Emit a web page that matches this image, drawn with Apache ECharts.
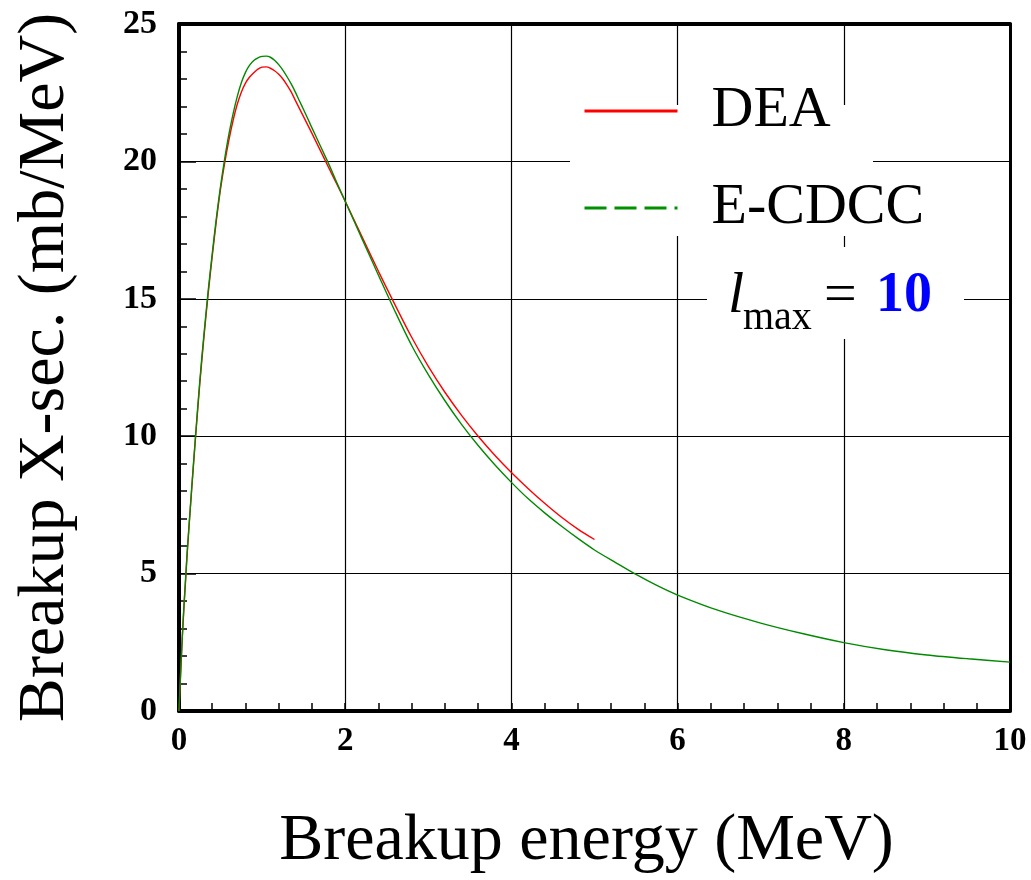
<!DOCTYPE html>
<html>
<head>
<meta charset="utf-8">
<script src="https://cdn.jsdelivr.net/npm/echarts@6/dist/echarts.min.js"></script>
<style>
html,body{margin:0;padding:0;background:#fff;}
#chart{width:1031px;height:880px;}
</style>
</head>
<body>
<div id="chart"></div>
<script>
// Breakup energy (MeV) grid
const energyDEA = [0,0.02,0.04,0.06,0.08,0.10,0.15,0.20,0.25,0.30,0.35,0.40,0.45,0.50,0.55,0.60,0.65,0.70,0.75,0.80,0.85,0.90,0.95,1.00,1.05,1.10,1.15,1.20,1.25,1.30,1.35,1.40,1.50,1.60,1.70,1.80,1.90,2.00,2.2,2.4,2.6,2.8,3.0,3.2,3.4,3.6,3.8,4.0,4.2,4.4,4.6,4.8,5.0];
const valuesDEA = [0,1.4,2.7,3.8,4.8,5.8,7.95,10.0,11.9,13.6,15.15,16.55,17.85,19.0,19.95,20.77,21.48,22.07,22.52,22.85,23.07,23.23,23.36,23.43,23.44,23.39,23.30,23.17,23.0,22.78,22.53,22.22,21.62,21.02,20.40,19.78,19.17,18.55,17.27,16.0,14.78,13.60,12.54,11.60,10.76,10.00,9.31,8.68,8.10,7.56,7.06,6.62,6.24];

const energyCDCC = [0,0.02,0.04,0.06,0.08,0.10,0.15,0.20,0.25,0.30,0.35,0.40,0.45,0.50,0.55,0.60,0.65,0.70,0.75,0.80,0.85,0.90,0.95,1.00,1.05,1.10,1.15,1.20,1.25,1.30,1.35,1.40,1.45,1.50,1.60,1.70,1.80,1.90,2.00,2.2,2.4,2.6,2.8,3.0,3.2,3.4,3.6,3.8,4.0,4.2,4.4,4.6,4.8,5.0,5.25,5.5,5.75,6.0,6.5,7.0,7.5,8.0,8.5,9.0,9.5,10.0];
const valuesCDCC = [0,1.4,2.7,3.85,4.85,5.85,8.0,10.05,12.0,13.7,15.25,16.65,17.95,19.1,20.1,20.98,21.72,22.35,22.86,23.24,23.5,23.67,23.77,23.82,23.83,23.79,23.68,23.52,23.32,23.08,22.82,22.52,22.20,21.88,21.22,20.57,19.92,19.22,18.55,17.2,15.86,14.54,13.30,12.24,11.29,10.43,9.66,8.96,8.32,7.73,7.21,6.73,6.28,5.86,5.41,4.97,4.57,4.22,3.65,3.2,2.82,2.49,2.23,2.04,1.90,1.78];

const seriesNames = ['DEA', 'E-CDCC'];
const xTicks = [0, 2, 4, 6, 8, 10];
const yTicks = [0, 5, 10, 15, 20, 25];
const lmaxValue = '10';

const pairs = (xs, ys) => xs.map((x, i) => [x, ys[i]]);

const serif = '"Liberation Serif", "DejaVu Serif", serif';
const chart = echarts.init(document.getElementById('chart'), null, {renderer: 'canvas'});

const axisLineStyle = {color: '#000', width: 4};
const splitLineStyle = {color: '#000', width: 1.2};
const hiddenSymbol = {color: 'rgba(0,0,0,0)', borderWidth: 0, opacity: 0};

chart.setOption({
  animation: false,
  backgroundColor: '#fff',
  grid: {left: 179, top: 24, width: 831, height: 693, containLabel: false},
  xAxis: [
    {
      type: 'value', position: 'bottom', min: xTicks[0], max: xTicks[xTicks.length - 1], interval: 2,
      name: 'Breakup energy (MeV)', nameLocation: 'middle', nameGap: 98,
      nameTextStyle: {fontFamily: serif, fontSize: 66, color: '#000', padding: [0, 16, 0, 0]},
      axisLine: {show: true, onZero: false, lineStyle: axisLineStyle},
      axisTick: {show: true, inside: true, length: 8, lineStyle: {color: '#000', width: 1.5}},
      minorTick: {show: true, splitNumber: 5, length: 8, lineStyle: {color: '#000', width: 1.5}},
      axisLabel: {show: true, margin: 14, fontFamily: serif, fontWeight: 'bold', fontSize: 33, color: '#000'},
      splitLine: {show: true, lineStyle: splitLineStyle},
      minorSplitLine: {show: false}
    },
    {
      type: 'value', position: 'top', min: 0, max: 10, interval: 2,
      axisLine: {show: true, onZero: false, lineStyle: axisLineStyle},
      axisTick: {show: false}, axisLabel: {show: false}, splitLine: {show: false}
    }
  ],
  yAxis: [
    {
      type: 'value', position: 'left', min: yTicks[0], max: yTicks[yTicks.length - 1], interval: 5,
      name: 'Breakup X-sec. (mb/MeV)', nameLocation: 'middle', nameGap: 100, nameRotate: 90,
      nameTextStyle: {fontFamily: serif, fontSize: 66, color: '#000'},
      axisLine: {show: true, onZero: false, lineStyle: axisLineStyle},
      axisTick: {show: true, inside: true, length: 17, lineStyle: {color: '#000', width: 1.5}},
      minorTick: {show: true, splitNumber: 5, length: 8, lineStyle: {color: '#000', width: 1.5}},
      axisLabel: {show: true, margin: 22, fontFamily: serif, fontWeight: 'bold', fontSize: 34, color: '#000'},
      splitLine: {show: true, lineStyle: splitLineStyle}
    },
    {
      type: 'value', position: 'right', min: 0, max: 25, interval: 5,
      axisLine: {show: true, onZero: false, lineStyle: {color: '#000', width: 3}},
      axisTick: {show: false}, axisLabel: {show: false}, splitLine: {show: false}
    }
  ],
  legend: {
    show: true, orient: 'vertical', left: 578, top: 77,
    itemWidth: 93, itemHeight: 20, itemGap: 39,
    lineStyle: {width: 3},
    textStyle: {fontFamily: serif, fontSize: 58, color: '#000', padding: [0, 0, 0, 29]},
    data: [
      {name: seriesNames[0], lineStyle: {color: '#ff0000', width: 3, type: 'solid'}, itemStyle: hiddenSymbol},
      {name: seriesNames[1], lineStyle: {color: '#009000', width: 3, type: [22, 8]}, itemStyle: hiddenSymbol}
    ]
  },
  graphic: [
    {type: 'rect', z: 3, shape: {x: 570, y: 105, width: 303, height: 131}, style: {fill: '#fff'}, silent: true},
    {type: 'rect', z: 3, shape: {x: 707, y: 247, width: 257, height: 92}, style: {fill: '#fff'}, silent: true},
    {type: 'text', z: 5, x: 728, y: 297, style: {text: 'l', font: 'italic 58px ' + serif, fill: '#000', verticalAlign: 'middle'}},
    {type: 'text', z: 5, x: 743, y: 318, style: {text: 'max', font: '40px ' + serif, fill: '#000', verticalAlign: 'middle'}},
    {type: 'text', z: 5, x: 824, y: 297, style: {text: '=', font: '58px ' + serif, fill: '#000', verticalAlign: 'middle'}},
    {type: 'text', z: 5, x: 876, y: 297, style: {text: lmaxValue, font: 'bold 56px ' + serif, fill: '#0000ff', verticalAlign: 'middle'}}
  ],
  series: [
    {
      name: seriesNames[0], type: 'line', xAxisIndex: 0, yAxisIndex: 0,
      data: pairs(energyDEA, valuesDEA), showSymbol: false, symbol: 'none', smooth: 0.3,
      lineStyle: {color: '#ff0000', width: 1.4}, itemStyle: {color: '#ff0000'}, z: 2
    },
    {
      name: seriesNames[1], type: 'line', xAxisIndex: 0, yAxisIndex: 0,
      data: pairs(energyCDCC, valuesCDCC), showSymbol: false, symbol: 'none', smooth: 0.3,
      lineStyle: {color: '#008a00', width: 1.4}, itemStyle: {color: '#008a00'}, z: 2
    }
  ]
});
</script>
</body>
</html>
